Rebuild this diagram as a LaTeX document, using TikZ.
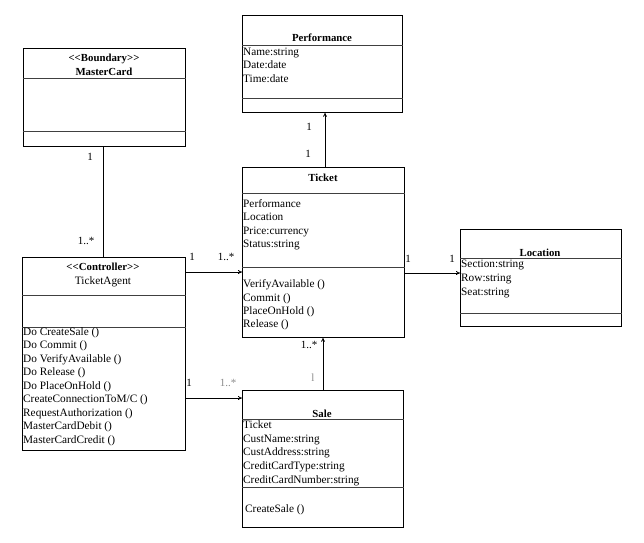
\documentclass[tikz,border=0pt]{standalone}
\usepackage{fontspec}
\setmainfont{Liberation Serif}
\usetikzlibrary{arrows.meta}
\tikzset{
  umlbox/.style={draw, line width=0.8pt, inner sep=0pt, anchor=north west},
  divline/.style={draw=black!75, line width=0.8pt},
  txt/.style={anchor=base west, inner sep=0pt, font=\fontsize{11.3}{13}\selectfont},
  ttl/.style={anchor=base, inner sep=0pt, font=\fontsize{10.8}{13}\selectfont\bfseries},
  ttn/.style={anchor=base, inner sep=0pt, font=\fontsize{11.3}{13}\selectfont},
  mult/.style={inner sep=0pt, font=\fontsize{11}{13}\selectfont},
  multg/.style={mult, text=black!45},
  conn/.style={line width=0.8pt},
  arr/.style={conn, -{To[length=4pt,width=4pt]}}
}
\begin{document}
\begin{tikzpicture}[x=1pt,y=-1pt]
\useasboundingbox[fill=white] (0,0) rectangle (644,542);

% MasterCard
\node[umlbox, minimum width=162, minimum height=98] (mc) at (23,48) {};
\draw[divline] (mc.west |- 0,78) -- (mc.east |- 0,78);
\draw[divline] (mc.west |- 0,131) -- (mc.east |- 0,131);
\node[ttl] (mcs) at (104,61) {{<}{<}Boundary{>}{>}};
\node[ttl] (mcn) at (104,75) {MasterCard};

% Performance
\node[umlbox, minimum width=160, minimum height=97] (perf) at (242,15) {};
\draw[divline] (perf.west |- 0,45) -- (perf.east |- 0,45);
\draw[divline] (perf.west |- 0,98) -- (perf.east |- 0,98);
\node[ttl] (perft) at (322,41) {Performance};
\node[txt] (pa1) at (243,55) {Name:string};
\node[txt] (pa2) at (243,68) {Date:date};
\node[txt] (pa3) at (243,82) {Time:date};

% Ticket
\node[umlbox, minimum width=162, minimum height=170] (tk) at (242,167) {};
\draw[divline] (tk.west |- 0,193) -- (tk.east |- 0,193);
\draw[divline] (tk.west |- 0,267) -- (tk.east |- 0,267);
\node[ttl] (tkt) at (323,181) {Ticket};
\node[txt] (ta1) at (243,207) {Performance};
\node[txt] (ta2) at (243,220) {Location};
\node[txt] (ta3) at (243,234) {Price:currency};
\node[txt] (ta4) at (243,247) {Status:string};
\node[txt] (to1) at (243,287) {VerifyAvailable ()};
\node[txt] (to2) at (243,301) {Commit ()};
\node[txt] (to3) at (243,314) {PlaceOnHold ()};
\node[txt] (to4) at (243,327) {Release ()};

% Location
\node[umlbox, minimum width=161, minimum height=97] (loc) at (460,229) {};
\draw[divline] (loc.west |- 0,258) -- (loc.east |- 0,258);
\draw[divline] (loc.west |- 0,313) -- (loc.east |- 0,313);
\node[ttl] (loct) at (540,256) {Location};
\node[txt] (la1) at (461,267) {Section:string};
\node[txt] (la2) at (461,281) {Row:string};
\node[txt] (la3) at (461,295) {Seat:string};

% TicketAgent
\node[umlbox, minimum width=163, minimum height=193] (ta) at (22,257) {};
\draw[divline] (ta.west |- 0,295) -- (ta.east |- 0,295);
\draw[divline] (ta.west |- 0,327) -- (ta.east |- 0,327);
\node[ttl] (tas) at (103,270) {{<}{<}Controller{>}{>}};
\node[ttn] (tan) at (103,284) {TicketAgent};
\node[txt] (g1) at (23,335) {Do CreateSale ()};
\node[txt] (g2) at (23,348.5) {Do Commit ()};
\node[txt] (g3) at (23,362) {Do VerifyAvailable ()};
\node[txt] (g4) at (23,375.5) {Do Release ()};
\node[txt] (g5) at (23,389) {Do PlaceOnHold ()};
\node[txt] (g6) at (23,402.5) {CreateConnectionToM/C ()};
\node[txt] (g7) at (23,416) {RequestAuthorization ()};
\node[txt] (g8) at (23,429.5) {MasterCardDebit ()};
\node[txt] (g9) at (23,443) {MasterCardCredit ()};

% Sale
\node[umlbox, minimum width=161, minimum height=137] (sale) at (242,390) {};
\draw[divline] (sale.west |- 0,419) -- (sale.east |- 0,419);
\draw[divline] (sale.west |- 0,487) -- (sale.east |- 0,487);
\node[ttl] (salet) at (322,417) {Sale};
\node[txt] (s1) at (243,428) {Ticket};
\node[txt] (s2) at (243,442) {CustName:string};
\node[txt] (s3) at (243,455.5) {CustAddress:string};
\node[txt] (s4) at (243,469) {CreditCardType:string};
\node[txt] (s5) at (243,483) {CreditCardNumber:string};
\node[txt] (so1) at (245,512) {CreateSale ()};

% connectors
\draw[conn] (mc.south -| 103,0) -- (ta.north -| 103,0);
\draw[arr] (ta.east |- 0,272) -- (tk.west |- 0,272);
\draw[arr] (ta.east |- 0,398) -- (sale.west |- 0,398);
\draw[arr] (sale.north -| 323,0) -- (tk.south -| 323,0);
\draw[arr] (tk.north -| 325,0) -- (perf.south -| 325,0);
\draw[arr] (tk.east |- 0,273) -- (loc.west |- 0,273);

% multiplicities
\node[mult] (m1) at (90,157) {1};
\node[mult] (m2) at (86,241) {1..*};
\node[mult] (m3) at (192,257) {1};
\node[mult] (m4) at (226,257) {1..*};
\node[mult] (m5) at (189,383) {1};
\node[multg] (m6) at (228,383) {1..*};
\node[mult] (m7) at (309,345) {1..*};
\node[multg] (m8) at (313,378) {l};
\node[mult] (m9) at (309,127) {1};
\node[mult] (m10) at (308,154) {1};
\node[mult] (m11) at (408,259) {1};
\node[mult] (m12) at (452,259) {1};
\end{tikzpicture}
\end{document}
